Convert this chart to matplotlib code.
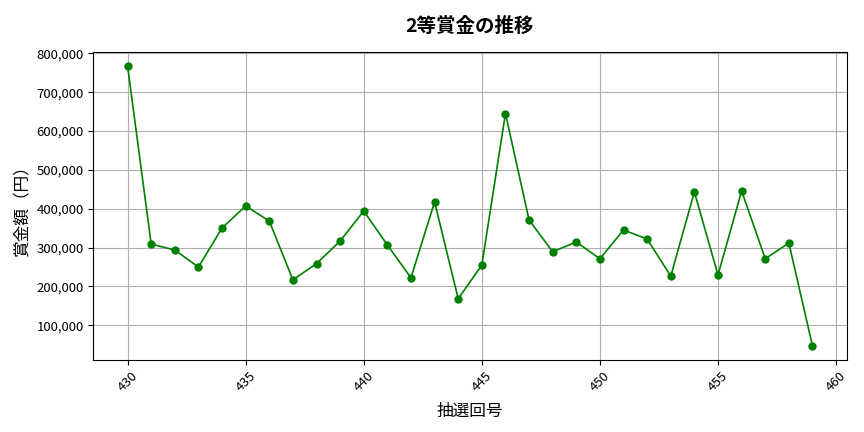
import matplotlib
matplotlib.use("Agg")
import matplotlib.pyplot as plt
from matplotlib.ticker import FuncFormatter

plt.rcParams['font.family'] = ['Noto Sans CJK JP', 'DejaVu Sans']

draws = list(range(430, 460))
prizes = [768000, 309000, 293600, 249700, 350300, 407000, 368400, 217000, 258300, 316800,
          394200, 306500, 222200, 417600, 168000, 254900, 645200, 370900, 289200, 314200,
          271200, 345100, 321900, 226500, 443200, 229100, 445800, 271200, 311600, 46800]

title = "2等賞金の推移"
xlabel = "抽選回号"
ylabel = "賞金額（円）"

fig, ax = plt.subplots(figsize=(8.64, 4.32), dpi=100)
ax.plot(draws, prizes, color='green', marker='o', markersize=5, linewidth=1.2)
ax.set_title(title, fontsize=14, fontweight='bold', pad=14)
ax.set_xlabel(xlabel, fontsize=12, labelpad=6)
ax.set_ylabel(ylabel, fontsize=12, labelpad=4)
ax.yaxis.set_major_formatter(FuncFormatter(lambda v, p: f"{int(v):,}"))
ax.tick_params(axis='both', labelsize=9.5)
plt.setp(ax.get_xticklabels(), rotation=45)
ax.grid(True, color='#b0b0b0', linewidth=0.8)
fig.subplots_adjust(left=0.108, right=0.98, top=0.88, bottom=0.167)
fig.savefig("out.png", dpi=100)
